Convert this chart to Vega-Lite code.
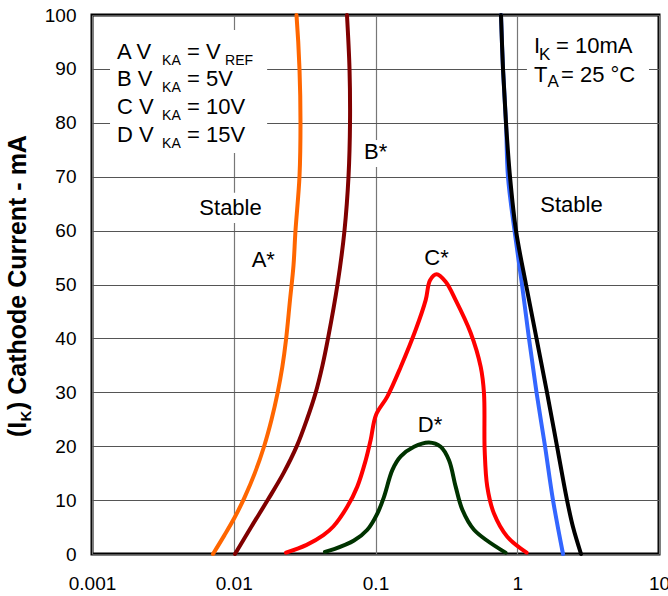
{
  "$schema": "https://vega.github.io/schema/vega-lite/v6.json",
  "width": 567,
  "height": 539,
  "autosize": {"type": "none"},
  "padding": {"left": 92, "top": 15, "right": 9, "bottom": 42},
  "background": "white",
  "config": {
    "view": {"stroke": "black", "strokeWidth": 3},
    "font": "Liberation Sans",
    "text": {"font": "Liberation Sans", "color": "black"}
  },
  "datasets": {
    "curves": [
      {"s": "A", "i": 1, "x": 0.007139, "y": 0},
      {"s": "A", "i": 2, "x": 0.008604, "y": 3.5},
      {"s": "A", "i": 3, "x": 0.010205, "y": 6.9},
      {"s": "A", "i": 4, "x": 0.011968, "y": 10.6},
      {"s": "A", "i": 5, "x": 0.014075, "y": 15.0},
      {"s": "A", "i": 6, "x": 0.016339, "y": 19.9},
      {"s": "A", "i": 7, "x": 0.018460, "y": 24.9},
      {"s": "A", "i": 8, "x": 0.020351, "y": 29.8},
      {"s": "A", "i": 9, "x": 0.022009, "y": 34.7},
      {"s": "A", "i": 10, "x": 0.023361, "y": 39.7},
      {"s": "A", "i": 11, "x": 0.024933, "y": 47.1},
      {"s": "A", "i": 12, "x": 0.026387, "y": 53.5},
      {"s": "A", "i": 13, "x": 0.027262, "y": 60},
      {"s": "A", "i": 14, "x": 0.029090, "y": 70},
      {"s": "A", "i": 15, "x": 0.029570, "y": 80},
      {"s": "A", "i": 16, "x": 0.029090, "y": 90},
      {"s": "A", "i": 17, "x": 0.027712, "y": 100},
      {"s": "B", "i": 1, "x": 0.010205, "y": 0},
      {"s": "B", "i": 2, "x": 0.013339, "y": 5.1},
      {"s": "B", "i": 3, "x": 0.017441, "y": 10.1},
      {"s": "B", "i": 4, "x": 0.022441, "y": 15},
      {"s": "B", "i": 5, "x": 0.027936, "y": 20.1},
      {"s": "B", "i": 6, "x": 0.032862, "y": 25},
      {"s": "B", "i": 7, "x": 0.037720, "y": 29.8},
      {"s": "B", "i": 8, "x": 0.042276, "y": 35},
      {"s": "B", "i": 9, "x": 0.046235, "y": 40},
      {"s": "B", "i": 10, "x": 0.053930, "y": 50},
      {"s": "B", "i": 11, "x": 0.060420, "y": 60},
      {"s": "B", "i": 12, "x": 0.064498, "y": 70},
      {"s": "B", "i": 13, "x": 0.066094, "y": 80},
      {"s": "B", "i": 14, "x": 0.065560, "y": 90},
      {"s": "B", "i": 15, "x": 0.062920, "y": 100},
      {"s": "C", "i": 1, "x": 0.02336, "y": 0.25},
      {"s": "C", "i": 2, "x": 0.0327, "y": 1.7},
      {"s": "C", "i": 3, "x": 0.0429, "y": 3.5},
      {"s": "C", "i": 4, "x": 0.0504, "y": 5.1},
      {"s": "C", "i": 5, "x": 0.0633, "y": 8.8},
      {"s": "C", "i": 6, "x": 0.0744, "y": 12.5},
      {"s": "C", "i": 7, "x": 0.0853, "y": 17.4},
      {"s": "C", "i": 8, "x": 0.0925, "y": 21.2},
      {"s": "C", "i": 9, "x": 0.1008, "y": 25.8},
      {"s": "C", "i": 10, "x": 0.1211, "y": 29.2},
      {"s": "C", "i": 11, "x": 0.1506, "y": 34.7},
      {"s": "C", "i": 12, "x": 0.1921, "y": 41.6},
      {"s": "C", "i": 13, "x": 0.2259, "y": 47.1},
      {"s": "C", "i": 14, "x": 0.2426, "y": 50.8},
      {"s": "C", "i": 15, "x": 0.270, "y": 51.9},
      {"s": "C", "i": 16, "x": 0.3126, "y": 50.5},
      {"s": "C", "i": 17, "x": 0.3677, "y": 47.1},
      {"s": "C", "i": 18, "x": 0.4695, "y": 41},
      {"s": "C", "i": 19, "x": 0.5524, "y": 34.7},
      {"s": "C", "i": 20, "x": 0.5827, "y": 29.8},
      {"s": "C", "i": 21, "x": 0.589, "y": 19.3},
      {"s": "C", "i": 22, "x": 0.6144, "y": 12.5},
      {"s": "C", "i": 23, "x": 0.6852, "y": 7.5},
      {"s": "C", "i": 24, "x": 0.8505, "y": 3.2},
      {"s": "C", "i": 25, "x": 1.165, "y": 0.25},
      {"s": "D", "i": 1, "x": 0.044, "y": 0.4},
      {"s": "D", "i": 2, "x": 0.051, "y": 0.9},
      {"s": "D", "i": 3, "x": 0.0705, "y": 2.5},
      {"s": "D", "i": 4, "x": 0.0876, "y": 4.5},
      {"s": "D", "i": 5, "x": 0.103, "y": 7.5},
      {"s": "D", "i": 6, "x": 0.1148, "y": 10.6},
      {"s": "D", "i": 7, "x": 0.1316, "y": 15.6},
      {"s": "D", "i": 8, "x": 0.1506, "y": 18.1},
      {"s": "D", "i": 9, "x": 0.1869, "y": 19.9},
      {"s": "D", "i": 10, "x": 0.2384, "y": 20.7},
      {"s": "D", "i": 11, "x": 0.2884, "y": 19.9},
      {"s": "D", "i": 12, "x": 0.33, "y": 17.4},
      {"s": "D", "i": 13, "x": 0.3677, "y": 12.5},
      {"s": "D", "i": 14, "x": 0.41, "y": 8.2},
      {"s": "D", "i": 15, "x": 0.4953, "y": 4.5},
      {"s": "D", "i": 16, "x": 0.8275, "y": 0.25},
      {"s": "E", "i": 1, "x": 0.768, "y": 100},
      {"s": "E", "i": 2, "x": 0.7934, "y": 90},
      {"s": "E", "i": 3, "x": 0.8329, "y": 80},
      {"s": "E", "i": 4, "x": 0.860, "y": 70},
      {"s": "E", "i": 5, "x": 0.9563, "y": 60},
      {"s": "E", "i": 6, "x": 1.080, "y": 50},
      {"s": "E", "i": 7, "x": 1.210, "y": 40},
      {"s": "E", "i": 8, "x": 1.367, "y": 30},
      {"s": "E", "i": 9, "x": 1.570, "y": 20},
      {"s": "E", "i": 10, "x": 1.787, "y": 10},
      {"s": "E", "i": 11, "x": 2.103, "y": 0},
      {"s": "F", "i": 1, "x": 0.768, "y": 100},
      {"s": "F", "i": 2, "x": 0.7934, "y": 90},
      {"s": "F", "i": 3, "x": 0.8329, "y": 80},
      {"s": "F", "i": 4, "x": 0.8889, "y": 70},
      {"s": "F", "i": 5, "x": 0.98, "y": 60},
      {"s": "F", "i": 6, "x": 1.1526, "y": 50},
      {"s": "F", "i": 7, "x": 1.367, "y": 40},
      {"s": "F", "i": 8, "x": 1.621, "y": 30},
      {"s": "F", "i": 9, "x": 1.907, "y": 20},
      {"s": "F", "i": 10, "x": 2.244, "y": 10},
      {"s": "F", "i": 11, "x": 2.474, "y": 5},
      {"s": "F", "i": 12, "x": 2.818, "y": 0}
    ],
    "boxes": [
      {"x": 0.00134, "x2": 0.0172, "y": 74.4, "y2": 97.2},
      {"x": 0.0056, "x2": 0.016, "y": 61.4, "y2": 67.0},
      {"x": 0.085, "x2": 0.118, "y": 71.8, "y2": 76.8},
      {"x": 1.17, "x2": 8.5, "y": 85.2, "y2": 97.2}
    ],
    "centered": [
      {"t": "Stable", "x": 0.00949, "y": 64.2},
      {"t": "A*", "x": 0.01616, "y": 54.5},
      {"t": "B*", "x": 0.1003, "y": 74.5},
      {"t": "C*", "x": 0.2693, "y": 55.0},
      {"t": "D*", "x": 0.2424, "y": 23.9},
      {"t": "Stable", "x": 2.414, "y": 64.8}
    ],
    "maintext": [
      {"t": "A V", "x": 0.0015, "y": 91.8},
      {"t": "= V", "x": 0.00468, "y": 91.8},
      {"t": "B V", "x": 0.0015, "y": 86.8},
      {"t": "= 5V", "x": 0.00468, "y": 86.8},
      {"t": "C V", "x": 0.0015, "y": 81.6},
      {"t": "= 10V", "x": 0.00468, "y": 81.6},
      {"t": "D V", "x": 0.0015, "y": 76.5},
      {"t": "= 15V", "x": 0.00468, "y": 76.5},
      {"t": "I", "x": 1.313, "y": 92.9},
      {"t": "= 10mA", "x": 1.877, "y": 92.9},
      {"t": "T", "x": 1.313, "y": 87.6},
      {"t": "= 25 °C", "x": 2.035, "y": 87.6}
    ],
    "legendsub": [
      {"t": "KA", "x": 0.00312, "y": 90.7},
      {"t": "REF", "x": 0.00868, "y": 90.7},
      {"t": "KA", "x": 0.00312, "y": 85.7},
      {"t": "KA", "x": 0.00312, "y": 80.5},
      {"t": "KA", "x": 0.00312, "y": 75.4}
    ],
    "condsub": [
      {"t": "K", "x": 1.423, "y": 91.65},
      {"t": "A", "x": 1.635, "y": 86.6}
    ],
    "ytitle": [
      {"t": "(I", "x": 0.000342, "y": 21.7},
      {"t": ") Cathode Current - mA", "x": 0.000342, "y": 26.7}
    ],
    "ytitlesub": [
      {"t": "K", "x": 0.000371, "y": 24.6}
    ]
  },
  "encoding": {
    "x": {
      "field": "x",
      "type": "quantitative",
      "scale": {"type": "log", "domain": [0.001, 10]},
      "axis": {
        "values": [0.001, 0.01, 0.1, 1, 10],
        "format": "~g",
        "title": null,
        "grid": true,
        "gridColor": "#777777",
        "gridWidth": 1.2,
        "ticks": false,
        "tickSize": 0,
        "domain": false,
        "labelFontSize": 19,
        "labelFont": "Liberation Sans",
        "labelColor": "black",
        "labelPadding": 20,
        "labelFlush": false,
        "labelBaseline": "top",
        "labelOverlap": false,
        "labelBound": false
      }
    },
    "y": {
      "field": "y",
      "type": "quantitative",
      "scale": {"domain": [0, 100], "nice": false},
      "axis": {
        "values": [0, 10, 20, 30, 40, 50, 60, 70, 80, 90, 100],
        "title": null,
        "grid": true,
        "gridColor": "#555555",
        "gridWidth": 1.1,
        "ticks": false,
        "tickSize": 0,
        "domain": false,
        "labelFontSize": 19,
        "labelFont": "Liberation Sans",
        "labelColor": "black",
        "labelPadding": 16,
        "labelOverlap": false,
        "labelBound": false
      }
    }
  },
  "layer": [
    {
      "data": {"name": "boxes"},
      "mark": {"type": "rect", "color": "white"},
      "encoding": {"x2": {"field": "x2"}, "y2": {"field": "y2"}}
    },
    {
      "data": {"name": "curves"},
      "mark": {"type": "line", "strokeWidth": 4, "interpolate": "catmull-rom", "strokeCap": "round"},
      "encoding": {
        "color": {
          "field": "s",
          "type": "nominal",
          "scale": {"domain": ["A", "B", "C", "D", "E", "F"], "range": ["#FF6600", "#800000", "#FF0000", "#003300", "#3366FF", "#000000"]},
          "legend": null
        },
        "order": {"field": "i", "type": "quantitative"}
      }
    },
    {
      "data": {"name": "centered"},
      "mark": {"type": "text", "fontSize": 22, "align": "center", "baseline": "middle"},
      "encoding": {"text": {"field": "t"}}
    },
    {
      "data": {"name": "maintext"},
      "mark": {"type": "text", "fontSize": 22, "align": "left", "baseline": "alphabetic"},
      "encoding": {"text": {"field": "t"}}
    },
    {
      "data": {"name": "legendsub"},
      "mark": {"type": "text", "fontSize": 14, "align": "left", "baseline": "alphabetic"},
      "encoding": {"text": {"field": "t"}}
    },
    {
      "data": {"name": "condsub"},
      "mark": {"type": "text", "fontSize": 17, "align": "left", "baseline": "alphabetic"},
      "encoding": {"text": {"field": "t"}}
    },
    {
      "data": {"name": "ytitle"},
      "mark": {"type": "text", "fontSize": 25, "fontWeight": "bold", "angle": 270, "align": "left", "baseline": "alphabetic"},
      "encoding": {"text": {"field": "t"}}
    },
    {
      "data": {"name": "ytitlesub"},
      "mark": {"type": "text", "fontSize": 15, "fontWeight": "bold", "angle": 270, "align": "left", "baseline": "alphabetic"},
      "encoding": {"text": {"field": "t"}}
    }
  ]
}
